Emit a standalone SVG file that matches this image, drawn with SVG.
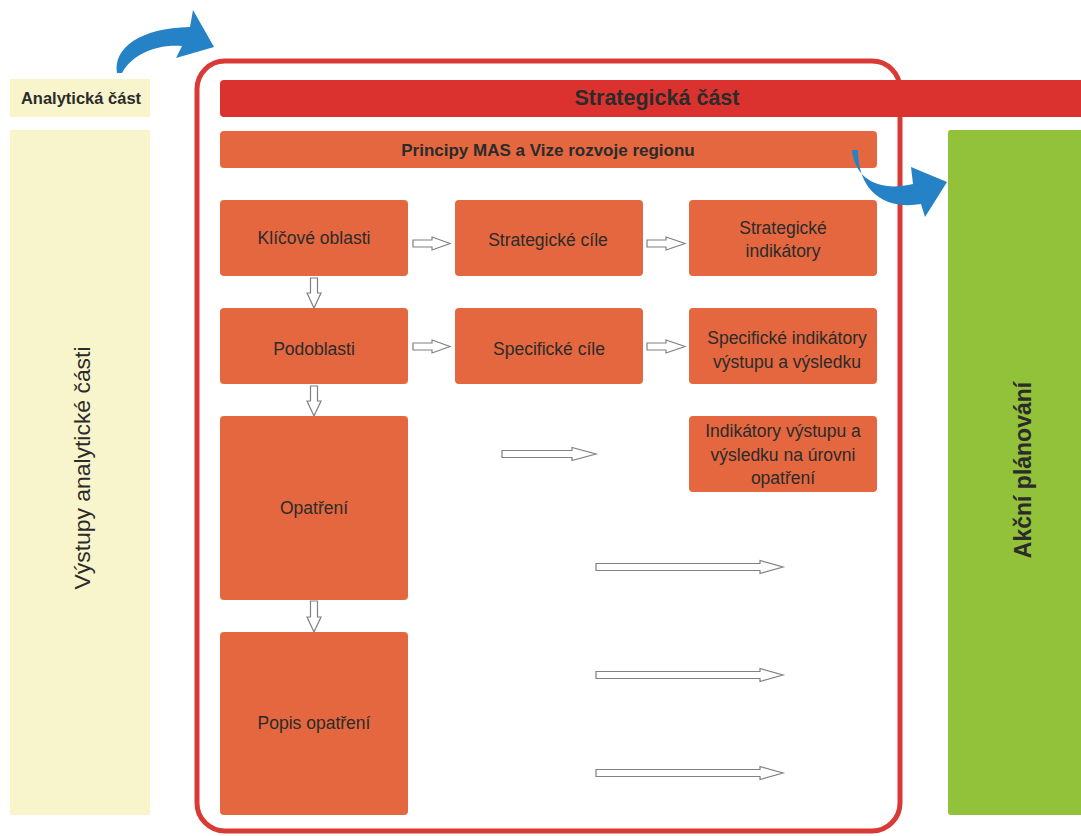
<svg xmlns="http://www.w3.org/2000/svg" width="1081" height="836" viewBox="0 0 1081 836">
<style>
.node{fill:#E4673F}
.t{font-family:"Liberation Sans",Arial,sans-serif;font-size:17.5px;fill:#2b2b2b;text-anchor:middle;dominant-baseline:central}
.b{font-weight:bold}
.arr{fill:#fff;stroke:#808080;stroke-width:1.2}
.blue{fill:#2582C6}
</style>
<rect width="1081" height="836" fill="#fff"/>
<g id="analyticka-label">
<rect x="10" y="79" width="140" height="38" fill="#F8F5CC"/>
<text class="t b" x="81" y="98" style="font-size:16.5px">Analytická část</text>
</g>
<g id="vystupy">
<rect x="10" y="130" width="140" height="685" fill="#F8F5CC"/>
<text class="t" x="0" y="0" transform="translate(82,468) rotate(-90)" style="font-size:22px" textLength="243" lengthAdjust="spacingAndGlyphs">Výstupy analytické části</text>
</g>
<g id="frame">
<rect x="197" y="61" width="703" height="770" rx="28" fill="none" stroke="#D93A35" stroke-width="5"/>
</g>
<g id="strategicka">
<rect x="220" y="80" width="870" height="37" rx="4" fill="#DC322F"/>
<text class="t b" x="657" y="98" style="font-size:21.5px">Strategická část</text>
</g>
<g id="principy">
<rect x="220" y="131" width="657" height="37" rx="4" class="node"/>
<text class="t b" x="548" y="150" style="font-size:17px">Principy MAS a Vize rozvoje regionu</text>
</g>
<g id="akcni">
<rect x="948" y="130" width="140" height="685" rx="3" fill="#92C13A"/>
<text class="t b" x="0" y="0" transform="translate(1023,470) rotate(-90)" style="font-size:23px">Akční plánování</text>
</g>
<g id="klicove"><rect x="220" y="200" width="188" height="76" rx="4" class="node"/><text class="t" x="314" y="238">Klíčové oblasti</text></g>
<g id="strat-cile"><rect x="455" y="200" width="188" height="76" rx="4" class="node"/><text class="t" x="548" y="240">Strategické cíle</text></g>
<g id="strat-ind"><rect x="689" y="200" width="188" height="76" rx="4" class="node"/><text class="t" x="783" y="228">Strategické</text><text class="t" x="783" y="251">indikátory</text></g>
<g id="podoblasti"><rect x="220" y="308" width="188" height="76" rx="4" class="node"/><text class="t" x="314" y="349">Podoblasti</text></g>
<g id="spec-cile"><rect x="455" y="308" width="188" height="76" rx="4" class="node"/><text class="t" x="549" y="349">Specifické cíle</text></g>
<g id="spec-ind"><rect x="689" y="308" width="188" height="76" rx="4" class="node"/><text class="t" x="787" y="338">Specifické indikátory</text><text class="t" x="787" y="362">výstupu a výsledku</text></g>
<g id="opatreni"><rect x="220" y="416" width="188" height="184" rx="4" class="node"/><text class="t" x="314" y="508">Opatření</text></g>
<g id="ind-opatreni"><rect x="689" y="416" width="188" height="76" rx="4" class="node"/><text class="t" x="783" y="431">Indikátory výstupu a</text><text class="t" x="783" y="455">výsledku na úrovni</text><text class="t" x="783" y="478">opatření</text></g>
<g id="popis"><rect x="220" y="632" width="188" height="183" rx="4" class="node"/><text class="t" x="314" y="723">Popis opatření</text></g>
<g id="connectors">
<polygon class="arr" points="413,240 432,240 432,237 450,243.5 432,250 432,247 413,247"/>
<polygon class="arr" points="647,240 666,240 666,237 685,243.5 666,250 666,247 647,247"/>
<polygon class="arr" points="413,343 432,343 432,340 450,346.5 432,353 432,350 413,350"/>
<polygon class="arr" points="647,343 666,343 666,340 685,346.5 666,353 666,350 647,350"/>
<polygon class="arr" points="310.5,278 317.5,278 317.5,293 321,293 314,308 307,293 310.5,293"/>
<polygon class="arr" points="310.5,386 317.5,386 317.5,401 321,401 314,416 307,401 310.5,401"/>
<polygon class="arr" points="310.5,601 317.5,601 317.5,617 321,617 314,632 307,617 310.5,617"/>
<polygon class="arr" points="502,450.5 572,450.5 572,447.5 596,454 572,460.5 572,457.5 502,457.5"/>
<polygon class="arr" points="596,563.5 760,563.5 760,560.5 783,567 760,573.5 760,570.5 596,570.5"/>
<polygon class="arr" points="596,671.5 760,671.5 760,668.5 783,675 760,681.5 760,678.5 596,678.5"/>
<polygon class="arr" points="596,769.5 760,769.5 760,766.5 783,773 760,779.5 760,776.5 596,776.5"/>
<path class="blue" d="M117,73 C113,48 140,28 190,27 L193,10 L214,47 L176,58 L182,46 C155,44 132,55 122,73 Z"/>
<path class="blue" d="M852,150 C855,180 880,192 913,184 L911,167 L947,182 L925,217 L921,204 C885,210 858,192 858,150 Z"/>
</g>
</svg>
